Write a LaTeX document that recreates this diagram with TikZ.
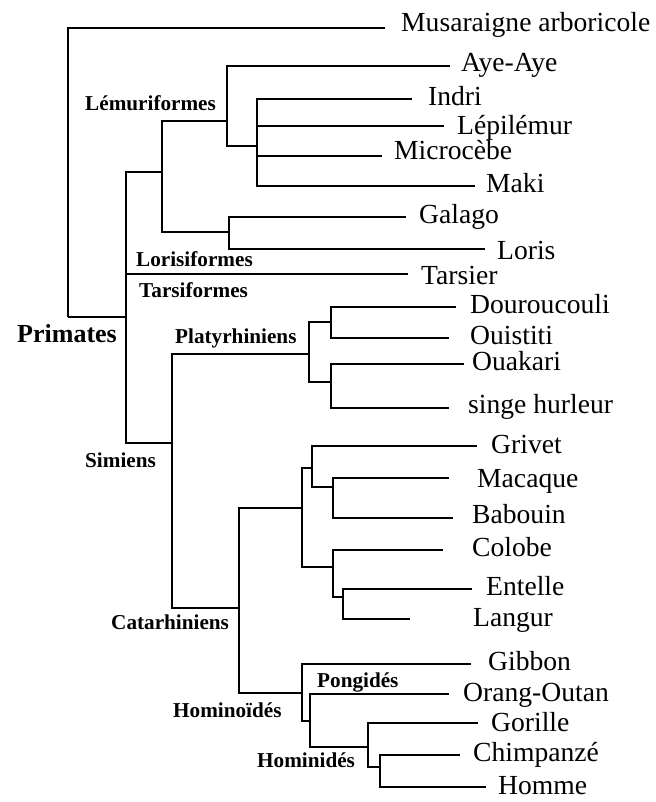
\documentclass[tikz,border=0pt]{standalone}
\usepackage{tikz}
\usepackage{fontspec}
\setmainfont{Liberation Serif}

\begin{document}
\begin{tikzpicture}[
x=0.5pt, y=-0.5pt,
line width=1.2pt,
taxon/.style={anchor=base west, inner sep=0pt, font=\fontsize{13.8}{16}\selectfont},
group/.style={anchor=base west, inner sep=0pt, font=\fontsize{10.6}{12}\selectfont\bfseries},
rootlabel/.style={group, font=\fontsize{13}{15}\selectfont\bfseries}
]
\useasboundingbox (0,0) rectangle (656,802);

% internal nodes
\coordinate (root) at (68,317);
\coordinate (prim) at (126,317);
\coordinate (strep) at (162,172);
\coordinate (lem) at (227,121);
\coordinate (lemB) at (257,146);
\coordinate (lor) at (229,232);
\coordinate (sim) at (172,443);
\coordinate (plat) at (309,354);
\coordinate (platA) at (331,322);
\coordinate (platB) at (331,382);
\coordinate (cat) at (239,608);
\coordinate (cerco) at (302,508);
\coordinate (cercoA) at (312,468);
\coordinate (cercoB) at (333,487);
\coordinate (colob) at (333,567);
\coordinate (colobB) at (343,597);
\coordinate (homoid) at (302,693);
\coordinate (homoidB) at (310,721);
\coordinate (homin) at (368,747);
\coordinate (hominB) at (380,767);

% leaf ends
\coordinate (musaE) at (385,28);
\coordinate (ayeE) at (450,66);
\coordinate (indriE) at (412,99);
\coordinate (lepiE) at (444,126);
\coordinate (microE) at (382,156);
\coordinate (makiE) at (475,186);
\coordinate (galagoE) at (406,217);
\coordinate (lorisE) at (485,249);
\coordinate (tarsE) at (408,274);
\coordinate (dourE) at (456,307);
\coordinate (ouisE) at (449,338);
\coordinate (ouakE) at (464,364);
\coordinate (hurlE) at (449,408);
\coordinate (grivE) at (477,446);
\coordinate (macaE) at (449,478);
\coordinate (babE) at (453,518);
\coordinate (colE) at (443,550);
\coordinate (entE) at (472,589);
\coordinate (langE) at (410,619);
\coordinate (gibE) at (471,664);
\coordinate (orangE) at (449,694);
\coordinate (gorE) at (478,723);
\coordinate (chimpE) at (460,755);
\coordinate (hommeE) at (486,787);

% branches
\draw (root) |- (musaE);
\draw (root) -- (prim);
\draw (prim) |- (strep);
\draw (prim) |- (tarsE);
\draw (prim) |- (sim);
\draw (strep) |- (lem);
\draw (strep) |- (lor);
\draw (lem) |- (ayeE);
\draw (lem) |- (lemB);
\draw (lemB) |- (indriE);
\draw (lemB) |- (lepiE);
\draw (lemB) |- (microE);
\draw (lemB) |- (makiE);
\draw (lor) |- (galagoE);
\draw (lor) |- (lorisE);
\draw (sim) |- (plat);
\draw (sim) |- (cat);
\draw (plat) |- (platA);
\draw (plat) |- (platB);
\draw (platA) |- (dourE);
\draw (platA) |- (ouisE);
\draw (platB) |- (ouakE);
\draw (platB) |- (hurlE);
\draw (cat) |- (cerco);
\draw (cat) |- (homoid);
\draw (cerco) |- (cercoA);
\draw (cerco) |- (colob);
\draw (cercoA) |- (grivE);
\draw (cercoA) |- (cercoB);
\draw (cercoB) |- (macaE);
\draw (cercoB) |- (babE);
\draw (colob) |- (colE);
\draw (colob) |- (colobB);
\draw (colobB) |- (entE);
\draw (colobB) |- (langE);
\draw (homoid) |- (gibE);
\draw (homoid) |- (homoidB);
\draw (homoidB) |- (orangE);
\draw (homoidB) |- (homin);
\draw (homin) |- (gorE);
\draw (homin) |- (hominB);
\draw (hominB) |- (chimpE);
\draw (hominB) |- (hommeE);

% species
\node[taxon] (musa) at (400,32) {Musaraigne arboricole};
\node[taxon] (aye) at (460,72) {Aye-Aye};
\node[taxon] (indri) at (427,106) {Indri};
\node[taxon] (lepi) at (456,135) {Lépilémur};
\node[taxon] (micro) at (393,160) {Microcèbe};
\node[taxon] (maki) at (485,192) {Maki};
\node[taxon] (galago) at (418,223) {Galago};
\node[taxon] (loris) at (496,259) {Loris};
\node[taxon] (tars) at (420,284) {Tarsier};
\node[taxon] (dour) at (469,313) {Douroucouli};
\node[taxon] (ouis) at (469,344) {Ouistiti};
\node[taxon] (ouak) at (471,370) {Ouakari};
\node[taxon] (hurl) at (467,413) {singe hurleur};
\node[taxon] (griv) at (490,453) {Grivet};
\node[taxon] (maca) at (476,487) {Macaque};
\node[taxon] (bab) at (471,523) {Babouin};
\node[taxon] (col) at (471,556) {Colobe};
\node[taxon] (ent) at (485,595) {Entelle};
\node[taxon] (lang) at (472,626) {Langur};
\node[taxon] (gib) at (487,670) {Gibbon};
\node[taxon] (orang) at (462,701) {Orang-Outan};
\node[taxon] (gor) at (490,731) {Gorille};
\node[taxon] (chimp) at (472,761) {Chimpanzé};
\node[taxon] (homme) at (497,794) {Homme};

% groups
\node[rootlabel] (primLab) at (16,342) {Primates};
\node[group] (lemLab) at (84,111) {Lémuriformes};
\node[group] (lorLab) at (135,266) {Lorisiformes};
\node[group] (tarsLab) at (138,297) {Tarsiformes};
\node[group] (platLab) at (174,343) {Platyrhiniens};
\node[group] (simLab) at (84,467) {Simiens};
\node[group] (catLab) at (110,629) {Catarhiniens};
\node[group] (pongLab) at (316,687) {Pongidés};
\node[group] (homoidLab) at (172,717) {Hominoïdés};
\node[group] (hominLab) at (256,767) {Hominidés};
\end{tikzpicture}
\end{document}
